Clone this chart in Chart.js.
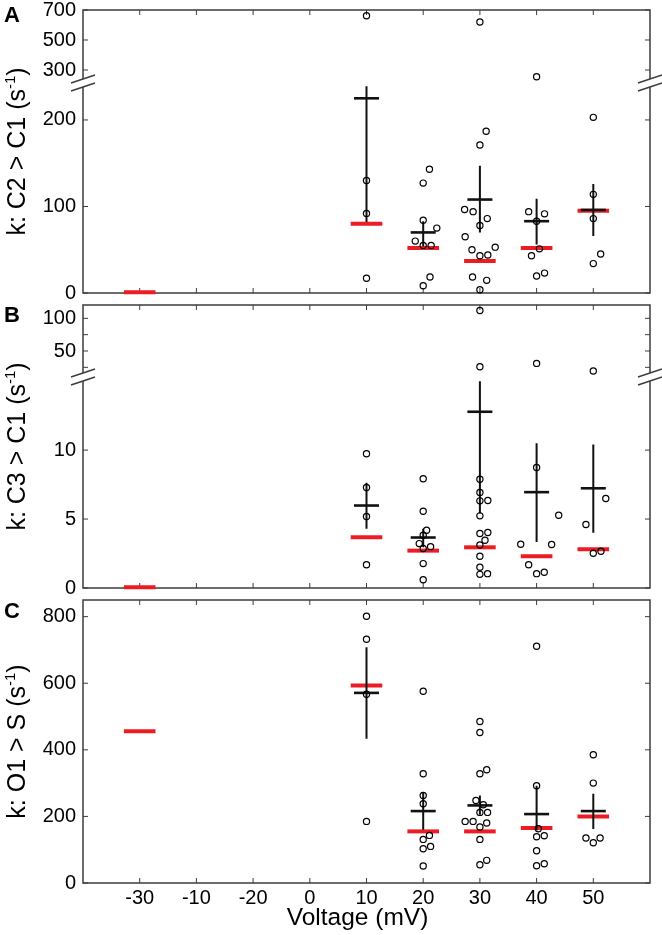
<!DOCTYPE html>
<html>
<head>
<meta charset="utf-8">
<script src="https://cdn.jsdelivr.net/npm/chart.js@4.4.1/dist/chart.umd.min.js"></script>
<style>
    body { margin: 0; background: #fff; }
    #wrap { position: relative; width: 662px; height: 935px; }
    canvas { position: absolute; left: 0; }
</style>
</head>
<body>
<div id="wrap">
    <canvas id="panelA" width="662" height="305" style="top:0px"></canvas>
    <canvas id="panelB" width="662" height="305" style="top:295px"></canvas>
    <canvas id="panelC" width="662" height="345" style="top:590px"></canvas>
</div>
<script>
const voltageLabels = ['-30', '-10', '-20', '0', '10', '20', '30', '40', '50'];

// A: k C2 > C1
const c2c1Points = [
    [], [], [], [],
    [662, 130, 92, 17],
    [143, 127, 84, 75, 60, 55, 55, 18.5, 8.4],
    [620, 187, 171, 96.5, 94, 86, 78, 65, 53, 50, 43, 44, 18.5, 14.6, 3.8],
    [255, 94, 91.5, 83, 51, 43, 23, 19.6],
    [203, 114, 86, 45, 34]
];
const c2c1Jitter = [
    [], [], [], [],
    [0, 0, 0, 0],
    [0.11, 0, 0, 0.24, -0.14, 0, 0.14, 0.12, 0],
    [0, 0.11, 0, -0.27, -0.12, 0.13, 0, -0.26, 0.27, -0.14, 0, 0.14, -0.13, 0.12, 0],
    [0, -0.14, 0.14, 0, 0.05, -0.09, 0.14, 0],
    [0, 0, 0, 0.13, 0]
];
const c2c1Mean = [null, null, null, null, 225, 70, 108, 83, 96];
const c2c1Low = [null, null, null, null, 82, 54, 70, 56, 66];
const c2c1High = [null, null, null, null, 239, 83, 147, 109, 126];
const c2c1Red = [1, null, null, null, 80, 52, 37, 52, 95];
const c2c1LoRange = [0, 242.7];
const c2c1HiRange = [213.3, 700];
const c2c1LoTicks = [0, 100, 200];
const c2c1HiTicks = [300, 500, 700];

// B: k C3 > C1
const c3c1Points = [
    [], [], [], [],
    [9.73, 7.29, 5.18, 1.69],
    [7.92, 5.57, 4.19, 3.83, 3.22, 3.0, 2.86, 1.77, 0.6],
    [112, 26, 7.89, 6.92, 6.32, 6.34, 5.23, 3.95, 4.02, 3.46, 3.12, 2.3, 1.5, 0.99, 1.04],
    [31, 8.74, 5.28, 3.17, 3.15, 1.69, 1.04, 1.14],
    [19.4, 6.49, 4.6, 2.52, 2.66]
];
const c3c1Jitter = [
    [], [], [], [],
    [0, 0, 0, 0],
    [0, 0, 0.06, 0, -0.07, 0.13, 0, 0, 0],
    [0, 0, 0, 0, 0, 0.14, 0, 0, 0.14, 0.09, 0, 0, 0, 0, 0.135],
    [0, 0, 0.39, -0.28, 0.265, -0.14, 0, 0.135],
    [0, 0.22, -0.13, 0, 0.135]
];
const c3c1Mean = [null, null, null, null, 5.98, 3.66, 12.78, 6.95, 7.23];
const c3c1Low = [null, null, null, null, 4.29, 2.95, 5.4, 3.34, 4.0];
const c3c1High = [null, null, null, null, 7.63, 4.3, 15.0, 10.5, 10.41];
const c3c1Red = [0.05, null, null, null, 3.68, 2.71, 2.95, 2.3, 2.81];
const c3c1LoRange = [0, 15.3];
const c3c1HiRange = [10.2, 120.4];
const c3c1LoTicks = [0, 5, 10];
const c3c1HiTicks = [25, 50, 75, 100];
const c3c1HiLabels = [50, 100];

// C: k O1 > S
const o1sPoints = [
    [], [], [], [],
    [801, 732, 567, 185],
    [576, 328, 263, 238, 143, 131, 110, 103, 51],
    [485, 452, 328, 340, 248, 235, 212, 212, 185, 185, 180, 168, 131, 68, 55],
    [711, 292, 163, 139, 142, 97, 58, 52],
    [385, 300, 135, 135, 121]
];
const o1sJitter = [
    [], [], [], [],
    [0, 0, 0, 0],
    [0, 0, 0, 0, 0.11, 0, 0.13, 0, 0],
    [0, 0, 0, 0.12, -0.07, 0.06, 0, 0.135, -0.26, -0.12, 0.12, 0, 0, 0.12, 0],
    [0, 0, 0.03, 0, 0.135, 0, 0.135, 0],
    [0, 0, -0.13, 0.12, 0]
];
const o1sMean = [null, null, null, null, 571, 216, 233, 207, 216];
const o1sLow = [null, null, null, null, 433, 160, 205, 158, 162];
const o1sHigh = [null, null, null, null, 708, 270, 263, 292, 268];
const o1sRed = [456, null, null, null, 593, 155, 155, 165, 200];
const o1sRange = [0, 850];
const o1sTicks = [0, 200, 400, 600, 800];

const FONT = "'Liberation Sans', Arial, Helvetica, sans-serif";
const FRAME = '#3c3c3c';
const RED = '#ec1c24';
const TICK_LEN = 5;

// frame, inward ticks, axis breaks and titles
const panelDecor = {
    id: 'panelDecor',
    beforeDatasetsDraw(chart) {
        const { ctx, chartArea: a, scales } = chart;
        ctx.save();
        ctx.strokeStyle = FRAME;
        ctx.lineWidth = 1.5;
        ctx.strokeRect(a.left, a.top, a.right - a.left, a.bottom - a.top);
        ctx.lineWidth = 1;
        ctx.beginPath();
        voltageLabels.forEach((_, i) => {
            const x = scales.x.getPixelForValue(i);
            ctx.moveTo(x, a.top);
            ctx.lineTo(x, a.top + TICK_LEN);
            ctx.moveTo(x, a.bottom);
            ctx.lineTo(x, a.bottom - TICK_LEN);
        });
        Object.values(scales).filter(s => s.axis === 'y').forEach(s => {
            s.ticks.forEach(t => {
                const y = s.getPixelForValue(t.value);
                ctx.moveTo(a.left, y);
                ctx.lineTo(a.left + TICK_LEN, y);
                ctx.moveTo(a.right, y);
                ctx.lineTo(a.right - TICK_LEN, y);
            });
        });
        ctx.stroke();
        ctx.restore();
    },
    afterDatasetsDraw(chart) {
        const hi = chart.scales.yHi;
        if (!hi) return;
        const { ctx, chartArea: a } = chart;
        const y = hi.bottom;
        ctx.save();
        [a.left, a.right].forEach(x => {
            ctx.fillStyle = '#fff';
            ctx.beginPath();
            ctx.moveTo(x - 12, y);
            ctx.lineTo(x + 12, y - 8);
            ctx.lineTo(x + 12, y);
            ctx.lineTo(x - 12, y + 8);
            ctx.closePath();
            ctx.fill();
            ctx.strokeStyle = FRAME;
            ctx.lineWidth = 1.5;
            ctx.beginPath();
            ctx.moveTo(x - 12, y);
            ctx.lineTo(x + 12, y - 8);
            ctx.moveTo(x - 12, y + 8);
            ctx.lineTo(x + 12, y);
            ctx.stroke();
        });
        ctx.restore();
    },
    afterDraw(chart, args, opts) {
        const { ctx, chartArea: a } = chart;
        ctx.save();
        ctx.fillStyle = '#000';
        ctx.textAlign = 'left';
        ctx.textBaseline = 'alphabetic';
        ctx.font = `bold 22px ${FONT}`;
        ctx.fillText(opts.letter, 4, opts.letterY);

        const big = `25px ${FONT}`;
        const small = `15px ${FONT}`;
        const [main, sup, close] = opts.title;
        ctx.font = big;
        const w1 = ctx.measureText(main).width;
        const w3 = ctx.measureText(close).width;
        ctx.font = small;
        const w2 = ctx.measureText(sup).width;
        ctx.save();
        ctx.translate(25, (a.top + a.bottom) / 2);
        ctx.rotate(-Math.PI / 2);
        let x = -(w1 + w2 + w3) / 2;
        ctx.font = big;
        ctx.fillText(main, x, 0);
        x += w1;
        ctx.font = small;
        ctx.fillText(sup, x, -10);
        x += w2;
        ctx.font = big;
        ctx.fillText(close, x, 0);
        ctx.restore();

        if (opts.xTitle) {
            ctx.font = `24.5px ${FONT}`;
            ctx.textAlign = 'center';
            ctx.fillText(opts.xTitle, 357.5, 335);
        }
        ctx.restore();
    }
};

function yAxis(range, tickValues, extra, labelValues) {
    return Object.assign({
        type: 'linear',
        position: 'left',
        min: range[0],
        max: range[1],
        afterBuildTicks: s => { s.ticks = tickValues.map(v => ({ value: v })); },
        afterFit: s => {
            s.width = 83;
            s.paddingTop = 0;
            s.paddingBottom = 0;
        },
        grid: { display: false, drawTicks: false },
        border: { display: false },
        ticks: {
            color: '#000',
            padding: 7,
            autoSkip: false,
            font: { family: FONT, size: 20, lineHeight: 1 },
            callback: v => (!labelValues || labelValues.includes(v)) ? String(v) : ''
        }
    }, extra);
}

function xAxis(showLabels) {
    return {
        type: 'linear',
        min: -1,
        max: 9,
        display: showLabels,
        afterBuildTicks: s => { s.ticks = voltageLabels.map((_, i) => ({ value: i })); },
        afterFit: s => {
            s.height = showLabels ? 52 : 0;
            s.paddingLeft = 0;
            s.paddingRight = 0;
        },
        grid: { display: false, drawTicks: false },
        border: { display: false },
        ticks: {
            color: '#000',
            padding: 5,
            autoSkip: false,
            maxRotation: 0,
            font: { family: FONT, size: 20, lineHeight: 1 },
            callback: v => voltageLabels[v]
        }
    };
}

function buildDatasets(points, jitter, mean, low, high, red, split) {
    const lo = [];
    const hi = [];
    points.forEach((vals, i) => {
        vals.forEach((v, k) => {
            const p = { x: i + jitter[i][k], y: v };
            if (split !== undefined && v > split) hi.push(p); else lo.push(p);
        });
    });
    const bars = [];
    const means = [];
    mean.forEach((m, i) => {
        if (m === null) return;
        bars.push({ x: i, y: low[i] }, { x: i, y: high[i] }, { x: i, y: null });
        means.push({ x: i, y: m });
    });
    const reds = [];
    red.forEach((r, i) => { if (r !== null) reds.push({ x: i, y: r }); });

    const circle = {
        pointStyle: 'circle',
        pointRadius: 3.1,
        pointBorderWidth: 1.2,
        pointBorderColor: '#000',
        pointBackgroundColor: 'rgba(0,0,0,0)',
        clip: false
    };
    const sets = [
        Object.assign({ data: lo, yAxisID: 'y' }, circle)
    ];
    if (split !== undefined) sets.push(Object.assign({ data: hi, yAxisID: 'yHi' }, circle));
    sets.push({
        data: means,
        yAxisID: 'y',
        pointStyle: 'line',
        pointRadius: 12.5,
        pointBorderWidth: 2.6,
        pointBorderColor: '#111',
        clip: false
    });
    sets.push({
        data: bars,
        yAxisID: 'y',
        showLine: true,
        spanGaps: false,
        borderColor: '#111',
        borderWidth: 2,
        pointRadius: 0,
        clip: false
    });
    sets.push({
        data: reds,
        yAxisID: 'y',
        pointStyle: 'line',
        pointRadius: 15.8,
        pointBorderWidth: 4,
        pointBorderColor: RED,
        clip: false
    });
    return sets;
}

function makePanel(id, datasets, scales, decor, padding) {
    return new Chart(document.getElementById(id), {
        type: 'scatter',
        data: { datasets },
        options: {
            responsive: false,
            animation: false,
            devicePixelRatio: 1,
            events: [],
            layout: { padding, autoPadding: false },
            scales,
            plugins: {
                legend: { display: false },
                tooltip: { enabled: false },
                panelDecor: decor
            }
        },
        plugins: [panelDecor]
    });
}

makePanel('panelA',
    buildDatasets(c2c1Points, c2c1Jitter, c2c1Mean, c2c1Low, c2c1High, c2c1Red, c2c1LoRange[1]),
    {
        x: xAxis(false),
        y: yAxis(c2c1LoRange, c2c1LoTicks, { stack: 'a', stackWeight: 210, weight: 1 }),
        yHi: yAxis(c2c1HiRange, c2c1HiTicks, { stack: 'a', stackWeight: 73, weight: 2 })
    },
    { letter: 'A', letterY: 22, title: ['k: C2 > C1 (s', '-1', ')'] },
    { top: 10, right: 12, bottom: 12, left: 0 });

makePanel('panelB',
    buildDatasets(c3c1Points, c3c1Jitter, c3c1Mean, c3c1Low, c3c1High, c3c1Red, c3c1LoRange[1]),
    {
        x: xAxis(false),
        y: yAxis(c3c1LoRange, c3c1LoTicks, { stack: 'b', stackWeight: 211, weight: 1 }),
        yHi: yAxis(c3c1HiRange, c3c1HiTicks, { stack: 'b', stackWeight: 72, weight: 2 }, c3c1HiLabels)
    },
    { letter: 'B', letterY: 27, title: ['k: C3 > C1 (s', '-1', ')'] },
    { top: 10, right: 12, bottom: 12, left: 0 });

makePanel('panelC',
    buildDatasets(o1sPoints, o1sJitter, o1sMean, o1sLow, o1sHigh, o1sRed),
    {
        x: xAxis(true),
        y: yAxis(o1sRange, o1sTicks, {})
    },
    { letter: 'C', letterY: 28, title: ['k: O1 > S (s', '-1', ')'], xTitle: 'Voltage (mV)' },
    { top: 10, right: 12, bottom: 0, left: 0 });
</script>
</body>
</html>
